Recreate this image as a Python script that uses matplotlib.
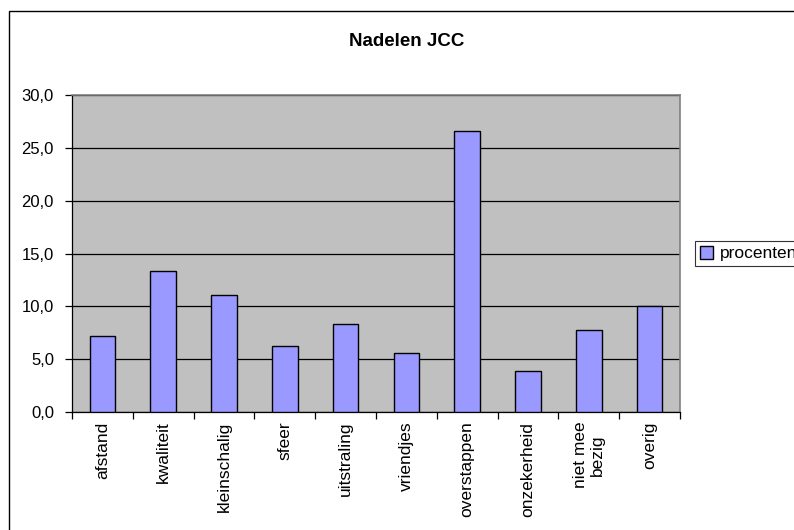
import numpy as np
import matplotlib
matplotlib.use("Agg")
import matplotlib.pyplot as plt
from matplotlib.patches import Rectangle

plt.rcParams['font.family'] = ['Liberation Sans', 'DejaVu Sans']

categorieen = ["afstand", "kwaliteit", "kleinschalig", "sfeer", "uitstraling",
               "vriendjes", "overstappen", "onzekerheid", "niet mee\nbezig", "overig"]
procenten = [7.2, 13.3, 11.1, 6.2, 8.3, 5.6, 26.6, 3.9, 7.8, 10.0]
y_ticks = [0, 5, 10, 15, 20, 25, 30]
y_labels = ["0,0", "5,0", "10,0", "15,0", "20,0", "25,0", "30,0"]

fig = plt.figure(figsize=(7.94, 5.30), dpi=100)
W, H = 794, 530

# rand om de hele grafiek (loopt rechts en onder buiten beeld)
fig.patches.append(Rectangle((8.5 / W, -0.05), 1.2, 1 - 10.5 / H + 0.05,
                             transform=fig.transFigure, fill=False,
                             edgecolor="black", linewidth=1.0))

ax = fig.add_axes([72 / W, 1 - 412 / H, (680 - 72) / W, (412 - 95) / H])
ax.set_facecolor("#c0c0c0")

x = np.arange(len(categorieen))
ax.bar(x, procenten, width=0.42, color="#9999ff", edgecolor="black",
       linewidth=1.0, label="procenten", zorder=3)

ax.set_ylim(0, 30)
ax.set_xlim(-0.5, len(categorieen) - 0.5)
ax.set_yticks(y_ticks)
ax.set_yticklabels(y_labels, fontsize=12)
ax.yaxis.grid(True, color="black", linewidth=0.9, zorder=1)
ax.set_axisbelow(True)

# categorie labels, verticaal
ax.set_xticks(x)
ax.set_xticklabels(categorieen, rotation=90, fontsize=12.5,
                   multialignment="center")
ax.tick_params(axis="x", length=0, pad=7)
ax.set_xticks(np.arange(-0.5, len(categorieen)), minor=True)
ax.tick_params(axis="x", which="minor", length=5, width=0.9, direction="out")
ax.tick_params(axis="y", length=5, width=0.9, direction="out", pad=8)

for s in ["top", "right"]:
    ax.spines[s].set_color("#808080")
    ax.spines[s].set_linewidth(1.2)
for s in ["left", "bottom"]:
    ax.spines[s].set_color("black")
    ax.spines[s].set_linewidth(0.9)

fig.text(407 / W, 1 - 41 / H, "Nadelen JCC", ha="center", va="center",
         fontsize=13.5, fontweight="bold")

leg = fig.legend(loc="center left", bbox_to_anchor=(695 / W, 1 - 253.5 / H),
                 fontsize=12.5, frameon=True, fancybox=False, borderpad=0.3,
                 handlelength=0.75, handleheight=0.75, handletextpad=0.4,
                 borderaxespad=0)
leg.get_frame().set_edgecolor("black")
leg.get_frame().set_linewidth(0.8)

fig.savefig("out.png", dpi=100)
